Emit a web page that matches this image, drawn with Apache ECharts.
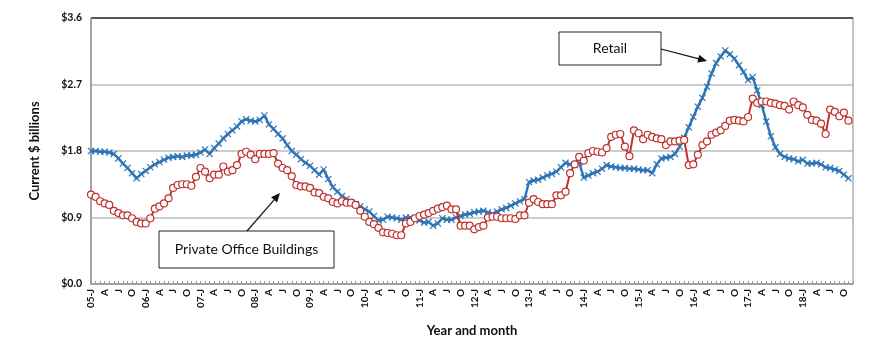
<!DOCTYPE html>
<html>
<head>
<meta charset="utf-8">
<script src="https://cdn.jsdelivr.net/npm/echarts@6/dist/echarts.min.js"></script>
<style>
  html, body { margin: 0; padding: 0; background: #fff; }
  #chart { width: 870px; height: 348px; }
</style>
</head>
<body>
<div id="chart"></div>
<script>
// Month initials and two-digit years for the category axis
const monthLetters = ['J','F','M','A','M','J','J','A','S','O','N','D'];
const years = ['05','06','07','08','09','10','11','12','13','14','15','16','17','18'];

// y-axis ticks ($ billions)
const yTicks = [0, 0.9, 1.8, 2.7, 3.6];

// Retail construction spending, monthly, current $ billions (Jan 2005 - Nov 2018)
const retail = [
  1.80, 1.80, 1.79, 1.79, 1.78, 1.76, 1.70, 1.63, 1.57, 1.50, 1.43, 1.49,
  1.53, 1.58, 1.62, 1.65, 1.68, 1.71, 1.72, 1.73, 1.72, 1.74, 1.74, 1.75,
  1.78, 1.82, 1.76, 1.84, 1.90, 1.97, 2.03, 2.08, 2.13, 2.20, 2.23, 2.21,
  2.20, 2.22, 2.28, 2.16, 2.10, 2.03, 1.97, 1.88, 1.80, 1.75, 1.69, 1.64,
  1.60, 1.54, 1.48, 1.55, 1.42, 1.31, 1.25, 1.19, 1.15, 1.11, 1.08, 1.05,
  1.01, 0.98, 0.92, 0.86, 0.87, 0.91, 0.90, 0.89, 0.87, 0.90, 0.90, 0.88,
  0.86, 0.83, 0.84, 0.79, 0.82, 0.89, 0.87, 0.87, 0.90, 0.92, 0.94, 0.95,
  0.97, 0.98, 0.99, 0.97, 0.95, 0.98, 1.01, 1.03, 1.06, 1.09, 1.12, 1.15,
  1.38, 1.40, 1.41, 1.44, 1.47, 1.49, 1.52, 1.58, 1.64, 1.62, 1.61, 1.64,
  1.44, 1.47, 1.50, 1.52, 1.56, 1.61, 1.59, 1.58, 1.57, 1.57, 1.56, 1.56,
  1.55, 1.54, 1.54, 1.50, 1.62, 1.70, 1.71, 1.72, 1.76, 1.86, 1.98, 2.12,
  2.26, 2.40, 2.52, 2.67, 2.85, 2.99, 3.08, 3.16, 3.11, 3.05, 2.96, 2.87,
  2.76, 2.80, 2.62, 2.42, 2.20, 2.00, 1.85, 1.76, 1.72, 1.70, 1.69, 1.66,
  1.68, 1.63, 1.63, 1.64, 1.62, 1.58, 1.57, 1.55, 1.53, 1.48, 1.43
];

// Private office buildings construction spending, monthly, current $ billions
const office = [
  1.21, 1.18, 1.12, 1.09, 1.07, 0.99, 0.96, 0.93, 0.93, 0.89, 0.84, 0.82,
  0.82, 0.89, 1.02, 1.05, 1.09, 1.16, 1.30, 1.34, 1.35, 1.35, 1.33, 1.45,
  1.57, 1.52, 1.43, 1.48, 1.48, 1.59, 1.52, 1.54, 1.61, 1.76, 1.79, 1.75,
  1.69, 1.76, 1.76, 1.76, 1.77, 1.63, 1.57, 1.54, 1.46, 1.34, 1.32, 1.32,
  1.30, 1.24, 1.23, 1.18, 1.16, 1.11, 1.09, 1.12, 1.10, 1.10, 1.07, 0.99,
  0.91, 0.84, 0.81, 0.76, 0.70, 0.69, 0.68, 0.66, 0.66, 0.82, 0.84, 0.89,
  0.92, 0.94, 0.96, 0.99, 1.02, 1.04, 1.06, 1.01, 1.01, 0.79, 0.79, 0.79,
  0.74, 0.77, 0.79, 0.90, 0.91, 0.91, 0.89, 0.89, 0.89, 0.88, 0.93, 0.93,
  1.10, 1.15, 1.11, 1.08, 1.08, 1.08, 1.20, 1.20, 1.25, 1.50, 1.62, 1.72,
  1.67, 1.77, 1.80, 1.79, 1.78, 1.84, 1.99, 2.02, 2.03, 1.86, 1.73, 2.08,
  2.04, 1.96, 2.02, 1.99, 1.97, 1.96, 1.88, 1.93, 1.93, 1.94, 1.95, 1.61,
  1.62, 1.75, 1.88, 1.93, 2.02, 2.05, 2.08, 2.14, 2.21, 2.22, 2.21, 2.20,
  2.26, 2.51, 2.45, 2.47, 2.47, 2.45, 2.44, 2.42, 2.41, 2.36, 2.47, 2.42,
  2.39, 2.29, 2.22, 2.21, 2.17, 2.03, 2.36, 2.33, 2.27, 2.32, 2.21
];

// "05-J", "F", "M", "A", ... one entry per month
const categories = [];
years.forEach(y => monthLetters.forEach((m, i) => categories.push(i === 0 ? y + '-' + m : m)));

const FONT = 'Lato, "DejaVu Sans", sans-serif';
const BLUE = '#2E75B6';
const RED = '#C0302B';
const X_MARK = 'path://M0,1.2L1.2,0L5,3.8L8.8,0L10,1.2L6.2,5L10,8.8L8.8,10L5,6.2L1.2,10L0,8.8L3.8,5Z';

const chart = echarts.init(document.getElementById('chart'), null, { renderer: 'canvas' });

chart.setOption({
  animation: false,
  backgroundColor: '#fff',
  grid: { left: 91, right: 17, top: 18, bottom: 64, show: true, borderColor: '#888', borderWidth: 1 },
  xAxis: {
    type: 'category',
    data: categories,
    boundaryGap: false,
    name: 'Year and month',
    nameLocation: 'middle',
    nameGap: 40,
    nameTextStyle: { fontFamily: FONT, fontWeight: 'bold', fontSize: 13, color: '#111' },
    axisLine: { lineStyle: { color: '#999', width: 1.5 } },
    axisTick: { show: true, inside: true, interval: 0, length: 3, lineStyle: { color: '#999' } },
    axisLabel: {
      interval: 2,
      rotate: 90,
      margin: 5,
      fontFamily: FONT,
      fontWeight: 'bold',
      fontSize: 10,
      color: '#111'
    },
    splitLine: { show: false }
  },
  yAxis: {
    type: 'value',
    min: yTicks[0],
    max: yTicks[yTicks.length - 1],
    interval: yTicks[1] - yTicks[0],
    name: 'Current $ billions',
    nameLocation: 'middle',
    nameGap: 50,
    nameTextStyle: { fontFamily: FONT, fontWeight: 'bold', fontSize: 13, color: '#111' },
    axisLine: { show: true, lineStyle: { color: '#999', width: 1.5 } },
    axisTick: { show: false },
    axisLabel: {
      margin: 9,
      fontFamily: FONT,
      fontWeight: 'bold',
      fontSize: 10.5,
      color: '#111',
      formatter: v => '$' + v.toFixed(1)
    },
    splitLine: { show: true, lineStyle: { color: ['#bbb', '#bbb', '#bbb', '#bbb', '#333'], width: 1.5 } }
  },
  series: [
    {
      name: 'Retail',
      type: 'line',
      data: retail,
      showAllSymbol: true,
      symbol: X_MARK,
      symbolSize: 7,
      itemStyle: { color: BLUE },
      lineStyle: { color: BLUE, width: 2.5 },
      z: 2
    },
    {
      name: 'Private Office Buildings',
      type: 'line',
      data: office,
      showAllSymbol: true,
      symbol: 'circle',
      symbolSize: 7,
      itemStyle: { color: '#fff', borderColor: RED, borderWidth: 1.2 },
      lineStyle: { color: RED, width: 2 },
      z: 3
    }
  ],
  graphic: [
    // Retail callout
    { type: 'rect', shape: { x: 559, y: 32, width: 102, height: 33 },
      style: { fill: '#fff', stroke: '#222', lineWidth: 1 }, z: 10 },
    { type: 'text', x: 610, y: 48.5, z: 11,
      style: { text: 'Retail', font: '14px ' + FONT, fill: '#111', textAlign: 'center', textVerticalAlign: 'middle' } },
    { type: 'line', shape: { x1: 661, y1: 49, x2: 700, y2: 59.2 },
      style: { stroke: '#111', lineWidth: 1.2 }, z: 10 },
    { type: 'polygon', shape: { points: [[707, 61], [697.3, 62.6], [699.3, 54.8]] },
      style: { fill: '#111' }, z: 10 },
    // Office callout
    { type: 'rect', shape: { x: 159, y: 231, width: 175, height: 37 },
      style: { fill: '#fff', stroke: '#222', lineWidth: 1 }, z: 10 },
    { type: 'text', x: 246.5, y: 249.5, z: 11,
      style: { text: 'Private Office Buildings', font: '14px ' + FONT, fill: '#111', textAlign: 'center', textVerticalAlign: 'middle' } },
    { type: 'line', shape: { x1: 247, y1: 231, x2: 275, y2: 198.8 },
      style: { stroke: '#111', lineWidth: 1.2 }, z: 10 },
    { type: 'polygon', shape: { points: [[280, 193], [277.1, 202.4], [271.1, 197.2]] },
      style: { fill: '#111' }, z: 10 }
  ]
});
</script>
</body>
</html>
